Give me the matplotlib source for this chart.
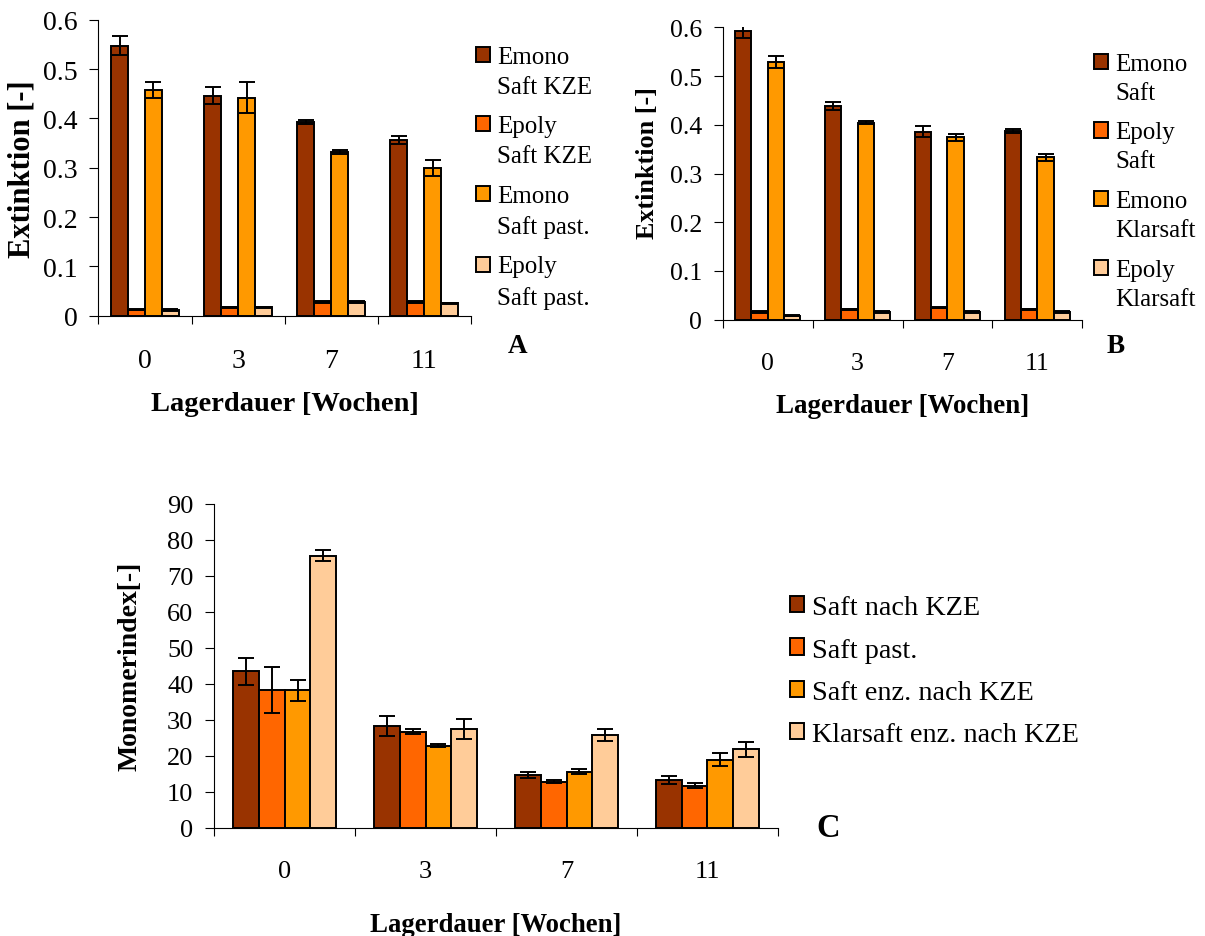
import numpy as np
import matplotlib
matplotlib.use("Agg")
import matplotlib.pyplot as plt
from matplotlib.patches import Patch, Rectangle
from matplotlib.legend_handler import HandlerPatch

plt.rcParams["font.family"] = ["Liberation Serif", "DejaVu Serif"]

weeks = ["0", "3", "7", "11"]
colors = ["#993300", "#FF6600", "#FF9900", "#FFCC99"]

# panel A: extinction of juice after KZE / pasteurised
a_labels = ["Emono\nSaft KZE", "Epoly\nSaft KZE", "Emono\nSaft past.", "Epoly\nSaft past."]
a_emono_kze = [0.547, 0.446, 0.393, 0.357]
a_emono_kze_err = [0.019, 0.017, 0.004, 0.008]
a_epoly_kze = [0.012, 0.017, 0.027, 0.027]
a_epoly_kze_err = [0.001, 0.001, 0.002, 0.002]
a_emono_past = [0.458, 0.442, 0.332, 0.300]
a_emono_past_err = [0.016, 0.032, 0.004, 0.016]
a_epoly_past = [0.011, 0.017, 0.027, 0.025]
a_epoly_past_err = [0.002, 0.001, 0.002, 0.001]

# panel B: juice vs. clear juice
b_labels = ["Emono\nSaft", "Epoly\nSaft", "Emono\nKlarsaft", "Epoly\nKlarsaft"]
b_emono_saft = [0.592, 0.439, 0.386, 0.387]
b_emono_saft_err = [0.013, 0.008, 0.012, 0.004]
b_epoly_saft = [0.015, 0.021, 0.025, 0.021]
b_epoly_saft_err = [0.002, 0.001, 0.001, 0.001]
b_emono_klar = [0.529, 0.404, 0.374, 0.333]
b_emono_klar_err = [0.012, 0.003, 0.008, 0.007]
b_epoly_klar = [0.008, 0.015, 0.015, 0.015]
b_epoly_klar_err = [0.001, 0.002, 0.002, 0.002]

# panel C: monomer index
c_labels = ["Saft nach KZE", "Saft past.", "Saft enz. nach KZE", "Klarsaft enz. nach KZE"]
c_saft_kze = [43.4, 28.3, 14.6, 13.3]
c_saft_kze_err = [3.7, 2.8, 0.9, 1.1]
c_saft_past = [38.2, 26.7, 12.8, 11.7]
c_saft_past_err = [6.3, 0.7, 0.5, 0.8]
c_saft_enz = [38.2, 22.8, 15.6, 18.9]
c_saft_enz_err = [2.9, 0.5, 0.6, 1.8]
c_klar_enz = [75.6, 27.3, 25.7, 21.8]
c_klar_enz_err = [1.6, 2.8, 1.7, 2.1]


def draw_panel(ax, values, errors, ymax, ystep, yticklabels, tick_fs):
    x = np.arange(len(weeks))
    w = 0.182
    for i, (v, e) in enumerate(zip(values, errors)):
        ax.bar(x + (i - 1.5) * w, v, w, color=colors[i], edgecolor="black",
               linewidth=1.4, yerr=e, capsize=5.5,
               error_kw=dict(elinewidth=1.4, capthick=1.4, ecolor="black"), zorder=2)
    ax.set_xlim(-0.5, len(weeks) - 0.5)
    ax.set_ylim(0, ymax)
    ax.set_yticks(np.arange(0, ymax + ystep / 2, ystep))
    ax.set_yticklabels(yticklabels, fontsize=tick_fs)
    ax.set_xticks(x)
    ax.set_xticklabels(weeks, fontsize=tick_fs)
    ax.set_xticks(np.arange(-0.5, len(weeks)), minor=True)
    ax.tick_params(axis="x", which="major", length=0, pad=23)
    ax.tick_params(axis="x", which="minor", length=6, width=0.8, direction="out")
    ax.tick_params(axis="y", length=6.5, width=0.8, direction="out", pad=8.5)
    for s in ("top", "right"):
        ax.spines[s].set_visible(False)
    for s in ("left", "bottom"):
        ax.spines[s].set_linewidth(0.8)


def raised_square(shift):
    # legend square sitting on the first line of a two-line label
    def make(legend, orig_handle, xdescent, ydescent, width, height, fontsize):
        return Rectangle((-xdescent, -ydescent + shift), width, height)
    return HandlerPatch(patch_func=make)


def add_legend(ax, labels, anchor, fs, spacing, linespacing, shift, hsize):
    handles = [Patch(facecolor=c, edgecolor="black", linewidth=1.4) for c in colors]
    leg = ax.legend(handles, labels, loc="upper left", bbox_to_anchor=anchor,
                    bbox_transform=ax.figure.transFigure, frameon=False, fontsize=fs,
                    handlelength=hsize, handleheight=hsize, handletextpad=0.28,
                    labelspacing=spacing, borderaxespad=0, borderpad=0,
                    handler_map={Patch: raised_square(shift)})
    for t in leg.get_texts():
        t.set_linespacing(linespacing)
    return leg


fig = plt.figure(figsize=(12.05, 9.37), dpi=100)

ext_ticks = ["0", "0.1", "0.2", "0.3", "0.4", "0.5", "0.6"]

ax_a = fig.add_axes([0.0817, 0.662, 0.3091, 0.3159])
draw_panel(ax_a, [a_emono_kze, a_epoly_kze, a_emono_past, a_epoly_past],
           [a_emono_kze_err, a_epoly_kze_err, a_emono_past_err, a_epoly_past_err],
           0.6, 0.1, ext_ticks, 20)
ax_a.set_ylabel("Extinktion [-]", fontsize=22, fontweight="bold")
ax_a.yaxis.set_label_coords(-0.165, 0.5)
ax_a.set_xlabel("Lagerdauer [Wochen]", fontsize=20.5, fontweight="bold")
ax_a.xaxis.set_label_coords(0.5, -0.254)
add_legend(ax_a, a_labels, (0.395, 0.9498), 18, 0.70, 1.46, 12.3, 0.56)
fig.text(0.4299, 0.6297, "A", fontsize=19.5, fontweight="bold", ha="center", va="center")

ax_b = fig.add_axes([0.5998, 0.6577, 0.2984, 0.3121])
draw_panel(ax_b, [b_emono_saft, b_epoly_saft, b_emono_klar, b_epoly_klar],
           [b_emono_saft_err, b_epoly_saft_err, b_emono_klar_err, b_epoly_klar_err],
           0.6, 0.1, ext_ticks, 18.5)
ax_b.set_ylabel("Extinktion [-]", fontsize=18.8, fontweight="bold")
ax_b.yaxis.set_label_coords(-0.177, 0.54)
ax_b.set_xlabel("Lagerdauer [Wochen]", fontsize=19.4, fontweight="bold")
ax_b.xaxis.set_label_coords(0.5, -0.252)
add_legend(ax_b, b_labels, (0.9079, 0.9427), 18, 0.70, 1.42, 12.0, 0.56)
fig.text(0.9261, 0.6297, "B", fontsize=19.5, fontweight="bold", ha="center", va="center")

ax_c = fig.add_axes([0.1778, 0.1156, 0.4678, 0.3458])
draw_panel(ax_c, [c_saft_kze, c_saft_past, c_saft_enz, c_klar_enz],
           [c_saft_kze_err, c_saft_past_err, c_saft_enz_err, c_klar_enz_err],
           90, 10, [str(v) for v in range(0, 91, 10)], 19)
ax_c.set_ylabel("Monomerindex[-]", fontsize=20, fontweight="bold")
ax_c.yaxis.set_label_coords(-0.128, 0.5)
ax_c.set_xlabel("Lagerdauer [Wochen]", fontsize=19.3, fontweight="bold")
ax_c.xaxis.set_label_coords(0.5, -0.259)
add_legend(ax_c, c_labels, (0.6556, 0.3639), 20.3, 0.62, 1.2, 0, 0.5)
fig.text(0.6871, 0.1163, "C", fontsize=23.5, fontweight="bold", ha="center", va="center")

fig.savefig("out.png", dpi=100)
